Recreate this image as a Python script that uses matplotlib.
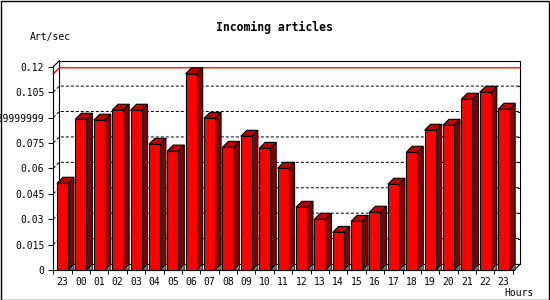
import matplotlib
matplotlib.use("Agg")
import matplotlib.pyplot as plt
from matplotlib.patches import Polygon, Rectangle

plt.rcParams['font.family'] = ['DejaVu Sans Mono', 'DejaVu Sans']

# Daten: Artikel pro Sekunde je Stunde
hours = ["23", "00", "01", "02", "03", "04", "05", "06", "07", "08", "09", "10",
         "11", "12", "13", "14", "15", "16", "17", "18", "19", "20", "21", "22", "23"]
rates = [0.0512, 0.0890, 0.0884, 0.0943, 0.0943, 0.0742, 0.0702, 0.1158, 0.0895,
         0.0724, 0.0789, 0.0718, 0.0600, 0.0370, 0.0299, 0.0222, 0.0287, 0.0341,
         0.0506, 0.0695, 0.0825, 0.0854, 0.1008, 0.1049, 0.0949]
yticks = [0, 0.015, 0.03, 0.045, 0.06, 0.075, 0.09, 0.105, 0.12]
ytick_labels = ["0", "0.015", "0.03", "0.045", "0.06", "0.075", "0.089999999", "0.105", "0.12"]

W, H = 550, 300
fig = plt.figure(figsize=(W / 100, H / 100), dpi=100)
fig.patch.set_facecolor('white')

# Achsen in Pixelkoordinaten
left_px, right_px, bottom_px, height_px = 53.3, 514.3, 30, 203.3
ax = fig.add_axes([left_px / W, bottom_px / H, (right_px - left_px) / W, height_px / H])
x0, x1 = -0.5, 24.58
ax.set_xlim(x0, x1)
ax.set_ylim(0, 0.12)
ax.set_facecolor('none')

# 3D-Versatz (6 px nach rechts und oben)
dx = 6 * (x1 - x0) / (right_px - left_px)
dy = 6 * 0.12 / height_px
top = 0.12

lw = 0.8
kw = dict(clip_on=False)

# Rückwand
ax.add_patch(Rectangle((x0 + dx, dy), x1 - x0, top, fc='white', ec='black', lw=lw, zorder=0, **kw))

# Gitterlinien (gestrichelt) an der Rückwand
for v in yticks[1:-1]:
    ax.plot([x0, x0 + dx, x1 + dx], [v, v + dy, v + dy], color='black', lw=0.72,
            dashes=(3, 2), zorder=1, **kw)
    ax.plot([x1 + dx - 0.15, x1 + dx], [v + dy, v + dy], color='black', lw=0.72, zorder=1, **kw)

# rote Linie beim Maximum
peak = max(rates)
ax.plot([x0, x0 + dx, x1 + dx], [peak, peak + dy, peak + dy], color='#e00000', lw=0.9, zorder=1.5, **kw)

# Boden
ax.plot([x1, x1 + dx], [0, dy], color='black', lw=lw, zorder=1, **kw)
ax.plot([x0, x0 + dx], [top, top + dy], color='black', lw=lw, zorder=1, **kw)

# Balken
w = 0.6
for i, v in enumerate(rates):
    l, r = i - w / 2, i + w / 2
    ax.add_patch(Polygon([(r, 0), (r + dx, dy), (r + dx, 0)], closed=True, fc='#808080',
                         ec='black', lw=0.5, zorder=2, **kw))
    ax.add_patch(Polygon([(r, 0), (r, v), (r + dx, v + dy), (r + dx, dy)], closed=True,
                         fc='#800000', ec='black', lw=lw, zorder=2, **kw))
    ax.add_patch(Polygon([(l, v), (r, v), (r + dx, v + dy), (l + dx, v + dy)], closed=True,
                         fc='#c00000', ec='black', lw=lw, zorder=2, **kw))
    ax.add_patch(Rectangle((l, 0), w, v, fc='#ff0000', ec='black', lw=lw, zorder=2, **kw))

# Achsen
for s in ['top', 'right']:
    ax.spines[s].set_visible(False)
for s in ['left', 'bottom']:
    ax.spines[s].set_linewidth(lw)
    ax.spines[s].set_zorder(3)

ax.set_yticks(yticks)
ax.set_yticklabels(ytick_labels)
ax.tick_params(axis='y', length=3.5, width=0.7, pad=3, labelsize=7)
ax.set_xticks(range(len(hours)))
ax.set_xticklabels(hours)
ax.set_xticks([i - 0.5 for i in range(len(hours) + 1)], minor=True)
ax.tick_params(axis='x', which='major', length=0, pad=5, labelsize=7)
ax.tick_params(axis='x', which='minor', length=3, width=0.7)

# Texte
fig.text(274 / W, 1 - 27 / H, "Incoming articles", ha='center', va='center',
         fontsize=8.3, fontweight='bold')
fig.text(30 / W, 1 - 36.7 / H, "Art/sec", ha='left', va='center', fontsize=7)
fig.text(534 / W, 1 - 292.7 / H, "Hours", ha='right', va='center', fontsize=7)

# Rahmen um die Grafik
fig.patches.append(Rectangle((0.5 / W, 0.5 / H), 1 - 1.5 / W, 1 - 1.5 / H,
                             transform=fig.transFigure, fill=False, ec='black', lw=1))

fig.savefig("out.png", dpi=100)
